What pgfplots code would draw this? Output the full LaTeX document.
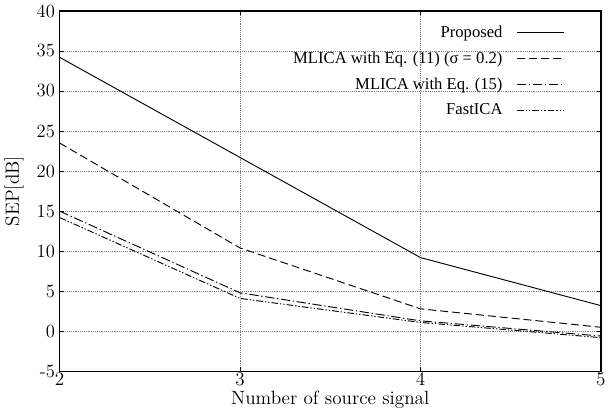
\documentclass[border=0pt]{standalone}
\usepackage{pgfplots}
\pgfplotsset{compat=1.18}
\usepackage{fontspec}
\newfontfamily\legfont{Liberation Serif}
\begin{document}
\begin{tikzpicture}
\begin{axis}[
  scale only axis,
  width=407pt, height=271pt,
  xmin=2, xmax=5, ymin=-5, ymax=40,
  xtick={2,3,4,5}, ytick={-5,0,...,40},
  yticklabels={-5,0,5,10,15,20,25,30,35,40},
  grid=major,
  major grid style={gray, densely dotted, line width=0.6pt},
  axis line style={line width=1pt},
  tick style={black, line width=0.6pt},
  major tick length=3pt,
  tick align=inside,
  ticklabel style={font=\fontsize{14}{16}\selectfont},
  xticklabel style={yshift=2pt},
  xlabel={Number of source signal},
  ylabel={SEP[dB]},
  label style={font=\fontsize{14.4}{16}\selectfont},
  xlabel style={yshift=3pt},
  ylabel style={yshift=3pt},
  legend style={draw=none, fill=none, at={(rel axis cs:0.94,0.975)}, anchor=north east,
    font=\legfont\fontsize{12.5}{14}\selectfont, row sep=5.5pt},
  legend cell align=right,
  legend plot pos=right,
  legend image code/.code={\path[draw=none,fill=none] (0pt,-2pt) rectangle (44pt,2pt); \draw[#1] (9pt,0pt) -- (44pt,0pt);},
]
\addplot[black, line width=0.7pt] coordinates {(2,34.2) (3,21.7) (4,9.2) (5,3.2)};
\addlegendentry{Proposed}
\addplot[black, line width=0.7pt, dash pattern=on 6pt off 3pt] coordinates {(2,23.5) (3,10.4) (4,2.8) (5,0.5)};
\addlegendentry{MLICA with Eq. (11) (σ = 0.2)}
\addplot[black, line width=0.7pt, dash pattern=on 7pt off 2pt on 1pt off 2pt] coordinates {(2,15.0) (3,4.8) (4,1.3) (5,-0.6)};
\addlegendentry{MLICA with Eq. (15)}
\addplot[black, line width=0.7pt, dash pattern=on 5pt off 1.5pt on 1pt off 1.5pt on 1pt off 1.5pt] coordinates {(2,14.2) (3,4.1) (4,1.1) (5,-0.8)};
\addlegendentry{FastICA}
\end{axis}
\end{tikzpicture}
\end{document}
